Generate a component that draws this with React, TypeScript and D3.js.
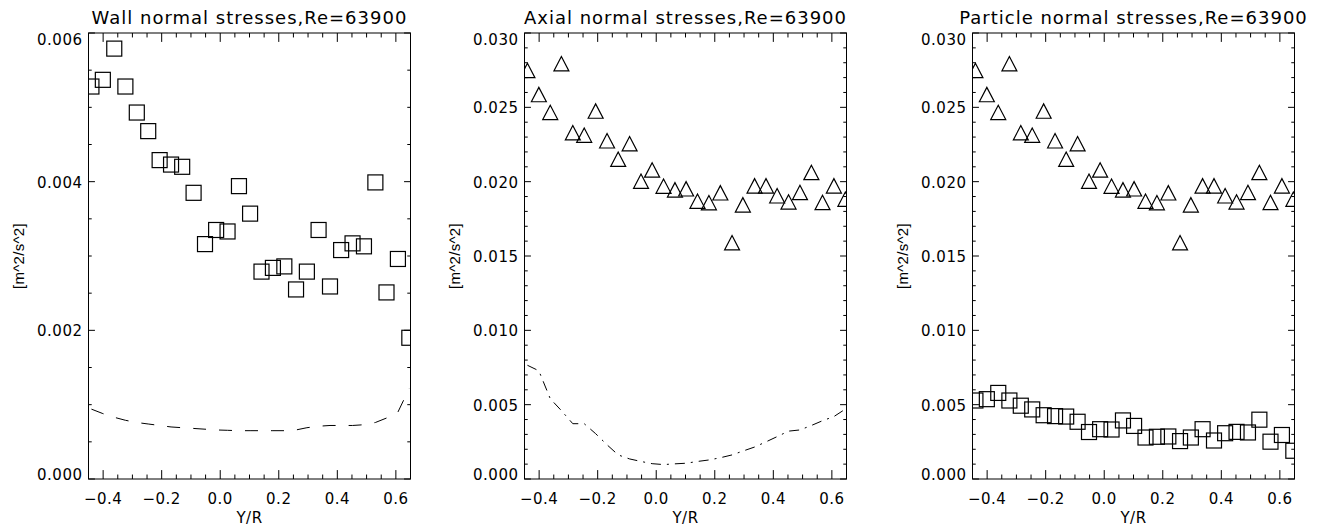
import React from "react";
import * as d3 from "d3";

// ---- data ----
const yOverR = [-0.440, -0.401, -0.362, -0.324, -0.285, -0.246, -0.207, -0.168, -0.130, -0.091, -0.052, -0.014, 0.025, 0.064, 0.102, 0.141, 0.180, 0.219, 0.259, 0.296, 0.336, 0.375, 0.413, 0.452, 0.491, 0.530, 0.568, 0.607, 0.646];

const wallStress = [0.00528, 0.00537, 0.00579, 0.00528, 0.00493, 0.00468, 0.00429, 0.00423, 0.00420, 0.00385, 0.00316, 0.00335, 0.00333, 0.00394, 0.00357, 0.00279, 0.00284, 0.00286, 0.00255, 0.00279, 0.00335, 0.00259, 0.00308, 0.00317, 0.00313, 0.00399, 0.00251, 0.00296, 0.00190];

const axialStress = [0.02748, 0.02586, 0.02466, 0.02793, 0.02329, 0.02313, 0.02475, 0.02275, 0.02151, 0.02255, 0.02003, 0.02079, 0.01970, 0.01945, 0.01952, 0.01869, 0.01859, 0.01925, 0.01589, 0.01844, 0.01972, 0.01972, 0.01905, 0.01864, 0.01927, 0.02062, 0.01860, 0.01972, 0.01882];

const wallLine = [0.00094, 0.00088, 0.00083, 0.00079, 0.00076, 0.00074, 0.00072, 0.00070, 0.00069, 0.00068, 0.00067, 0.00066, 0.000655, 0.00065, 0.00065, 0.00065, 0.00065, 0.00065, 0.00066, 0.00069, 0.00071, 0.00072, 0.00072, 0.00072, 0.00073, 0.00076, 0.00082, 0.00090, 0.00122];

const axialLine = [0.00765, 0.00728, 0.00540, 0.00460, 0.00372, 0.00372, 0.00305, 0.00230, 0.00162, 0.00135, 0.00118, 0.00103, 0.00097, 0.00102, 0.00106, 0.00118, 0.00128, 0.00143, 0.00162, 0.00188, 0.00215, 0.00250, 0.00285, 0.00322, 0.00330, 0.00360, 0.00392, 0.00420, 0.00470];

const xTicks = [-0.4, -0.2, 0.0, 0.2, 0.4, 0.6];
const xMinorTicks = [-0.35, -0.3, -0.25, -0.15, -0.1, -0.05, 0.05, 0.1, 0.15, 0.25, 0.3, 0.35, 0.45, 0.5, 0.55];
const xDomain = [-0.45, 0.65];

const wallYTicks = [0.0, 0.002, 0.004, 0.006];
const wallYMinor = [0.0005, 0.001, 0.0015, 0.0025, 0.003, 0.0035, 0.0045, 0.005, 0.0055];
const bigYTicks = [0.0, 0.005, 0.010, 0.015, 0.020, 0.025, 0.030];
const bigYMinor = [0.001, 0.002, 0.003, 0.004, 0.006, 0.007, 0.008, 0.009, 0.011, 0.012, 0.013, 0.014, 0.016, 0.017, 0.018, 0.019, 0.021, 0.022, 0.023, 0.024, 0.026, 0.027, 0.028, 0.029];

const titles = ["Wall normal stresses,Re=63900", "Axial normal stresses,Re=63900", "Particle normal stresses,Re=63900"];
const yTitle = "[m^2/s^2]";
const xTitle = "Y/R";

const FONT = "DejaVu Sans";
const TOP = 33;
const BOTTOM = 479;

type PanelProps = {
  id: string;
  left: number;
  right: number;
  title: string;
  yMax: number;
  yTicks: number[];
  yMinor: number[];
  yFmt: (v: number) => string;
  squares?: number[];
  triangles?: number[];
  line?: number[];
  dash?: string;
};

function fmtX(v: number) {
  const s = d3.format(".1f")(Math.abs(v));
  return (v < -1e-9 ? "\u2212" : "") + s;
}

function Panel(p: PanelProps) {
  const x = d3.scaleLinear().domain(xDomain).range([p.left, p.right]);
  const y = d3.scaleLinear().domain([0, p.yMax]).range([BOTTOM, TOP]);
  const w = p.right - p.left;
  const h = BOTTOM - TOP;
  const xMajLen = 0.02 * h;
  const yMajLen = 0.02 * w;
  const lineGen = d3
    .line<number>()
    .x((_, i) => x(yOverR[i]))
    .y((d) => y(d));
  const cx = (p.left + p.right) / 2;
  const tri = (px: number, py: number) => {
    const hw = 7.5;
    const hh = 7.2;
    return `M${px - hw},${py + hh}L${px},${py - hh}L${px + hw},${py + hh}Z`;
  };
  return (
    <g>
      <defs>
        <clipPath id={p.id}>
          <rect x={p.left} y={TOP} width={w} height={h} />
        </clipPath>
      </defs>
      {/* title */}
      <text x={cx} y={24} textAnchor="middle" fontFamily={FONT} fontSize={18} letterSpacing={1} fill="#000">
        {p.title}
      </text>
      {/* frame */}
      <rect x={p.left} y={TOP} width={w} height={h} fill="none" stroke="#000" strokeWidth={1} />
      {/* x ticks */}
      {xTicks.map((t) => (
        <g key={"xt" + t}>
          <line x1={x(t)} x2={x(t)} y1={BOTTOM} y2={BOTTOM - xMajLen} stroke="#000" />
          <line x1={x(t)} x2={x(t)} y1={TOP} y2={TOP + xMajLen} stroke="#000" />
          <text x={x(t)} y={503.5} textAnchor="middle" fontFamily={FONT} fontSize={15} letterSpacing={0.5} fill="#000">
            {fmtX(t)}
          </text>
        </g>
      ))}
      {xMinorTicks.map((t) => (
        <g key={"xm" + t}>
          <line x1={x(t)} x2={x(t)} y1={BOTTOM} y2={BOTTOM - xMajLen / 2} stroke="#000" />
          <line x1={x(t)} x2={x(t)} y1={TOP} y2={TOP + xMajLen / 2} stroke="#000" />
        </g>
      ))}
      {/* y ticks */}
      {p.yTicks.map((t, i) => {
        let by = y(t) + 6;
        if (i === 0) by = y(t) + 1;
        if (i === p.yTicks.length - 1) by = y(t) + 12;
        return (
          <g key={"yt" + t}>
            <line x1={p.left} x2={p.left + yMajLen} y1={y(t)} y2={y(t)} stroke="#000" />
            <line x1={p.right} x2={p.right - yMajLen} y1={y(t)} y2={y(t)} stroke="#000" />
            <text x={p.left - 6} y={by} textAnchor="end" fontFamily={FONT} fontSize={15} letterSpacing={0.5} fill="#000">
              {p.yFmt(t)}
            </text>
          </g>
        );
      })}
      {p.yMinor.map((t) => (
        <g key={"ym" + t}>
          <line x1={p.left} x2={p.left + yMajLen / 2} y1={y(t)} y2={y(t)} stroke="#000" />
          <line x1={p.right} x2={p.right - yMajLen / 2} y1={y(t)} y2={y(t)} stroke="#000" />
        </g>
      ))}
      {/* axis titles */}
      <text x={cx} y={522.5} textAnchor="middle" fontFamily={FONT} fontSize={15} letterSpacing={0.5} fill="#000">
        {xTitle}
      </text>
      <text
        transform={`translate(${p.left - 65},${(TOP + BOTTOM) / 2}) rotate(-90)`}
        textAnchor="middle"
        fontFamily="Liberation Sans"
        fontSize={15}
        letterSpacing={0.3}
        fill="#000"
      >
        {yTitle}
      </text>
      <g clipPath={`url(#${p.id})`}>
        {p.line && (
          <path d={lineGen(p.line) || ""} fill="none" stroke="#000" strokeWidth={1} strokeDasharray={p.dash} />
        )}
        {p.triangles &&
          p.triangles.map((v, i) => (
            <path key={"tr" + i} d={tri(x(yOverR[i]), y(v))} fill="none" stroke="#000" strokeWidth={1.2} />
          ))}
        {p.squares &&
          p.squares.map((v, i) => (
            <rect
              key={"sq" + i}
              x={x(yOverR[i]) - 7.5}
              y={y(v) - 7.5}
              width={15}
              height={15}
              fill="none"
              stroke="#000"
              strokeWidth={1.2}
            />
          ))}
      </g>
    </g>
  );
}

export default function App() {
  const f3 = d3.format(".3f");
  return (
    <svg
      width={1330}
      height={528}
      style={{ position: "absolute", left: 0, top: 0, background: "#fff" }}
    >
      <rect x={0} y={0} width={1330} height={528} fill="#fff" />
      <Panel
        id="c1"
        left={88.5}
        right={410.5}
        title={titles[0]}
        yMax={0.006}
        yTicks={wallYTicks}
        yMinor={wallYMinor}
        yFmt={f3}
        squares={wallStress}
        line={wallLine}
        dash="13,13"
      />
      <Panel
        id="c2"
        left={524.5}
        right={846.5}
        title={titles[1]}
        yMax={0.03}
        yTicks={bigYTicks}
        yMinor={bigYMinor}
        yFmt={f3}
        triangles={axialStress}
        line={axialLine}
        dash="10,6,2,6"
      />
      <Panel
        id="c3"
        left={972.5}
        right={1294.5}
        title={titles[2]}
        yMax={0.03}
        yTicks={bigYTicks}
        yMinor={bigYMinor}
        yFmt={f3}
        triangles={axialStress}
        squares={wallStress}
      />
    </svg>
  );
}
